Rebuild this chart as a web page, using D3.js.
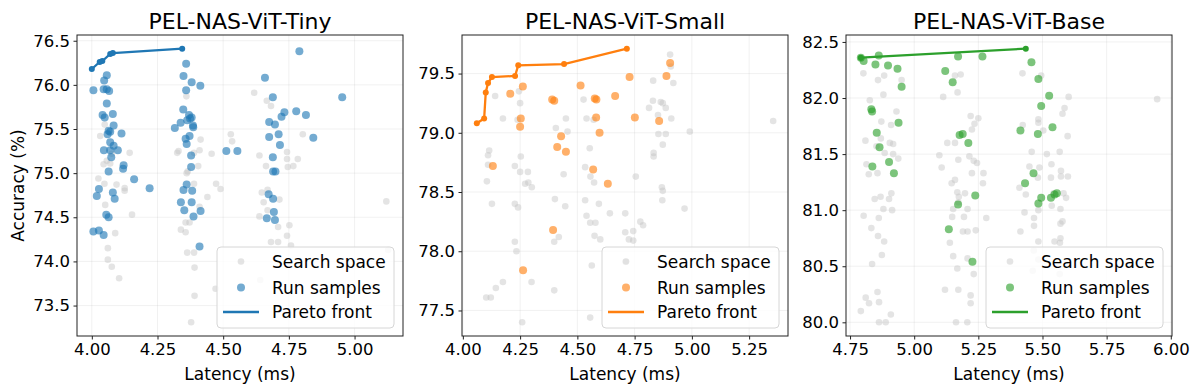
<!DOCTYPE html>
<html>
<head>
<meta charset="utf-8">
<script src="https://cdn.jsdelivr.net/npm/d3@7"></script>
<style>
  body { margin: 0; background: #fff; }
  text { font-family: "DejaVu Sans", sans-serif; fill: #000; }
</style>
</head>
<body>
<div id="chart"></div>
<script>
// chart data: [latency ms, accuracy %]
var titles = ["PEL-NAS-ViT-Tiny", "PEL-NAS-ViT-Small", "PEL-NAS-ViT-Base"];
var colors = ["#1f77b4", "#ff7f0e", "#2ca02c"];
var legendLabels = ["Search space", "Run samples", "Pareto front"];

var xTicks = [[4.00, 4.25, 4.50, 4.75, 5.00],
              [4.00, 4.25, 4.50, 4.75, 5.00, 5.25],
              [4.75, 5.00, 5.25, 5.50, 5.75, 6.00]];
var yTicks = [[73.5, 74.0, 74.5, 75.0, 75.5, 76.0, 76.5],
              [77.5, 78.0, 78.5, 79.0, 79.5],
              [80.0, 80.5, 81.0, 81.5, 82.0, 82.5]];

var tinySearch = [[4.618,75.91],[4.666,75.82],[4.682,75.76],[4.803,75.44],[4.529,75.44],[4.534,75.36],[4.414,75.38],[4.41,75.26],
  [4.389,75.23],[4.325,75.23],[4.456,75.22],[4.638,75.20],[4.743,75.24],[4.743,75.16],[4.784,75.16],[4.746,75.07],[4.767,75.08],
  [4.663,75.08],[4.405,75.08],[4.361,75.00],[4.389,74.88],[4.473,74.88],[4.490,74.82],[4.440,74.73],[4.410,74.62],[4.669,74.81],
  [4.647,74.78],[4.654,74.67],[4.669,74.58],[4.638,74.51],[4.714,74.70],[5.121,74.68],[5.128,74.13],[4.752,74.41],[4.709,74.39],
  [4.743,74.29],[4.682,74.22],[4.709,74.22],[4.758,74.18],[4.357,74.44],[4.372,74.44],[4.339,74.36],[4.357,74.33],[4.363,74.10],
  [4.389,74.10],[4.391,73.93],[4.391,73.61],[4.378,73.31],[4.471,73.69],[4.641,73.79],[4.076,75.22],[4.032,75.42],[4.049,75.55],
  [4.057,75.14],[4.07,75.11],[4.025,74.94],[4.048,74.88],[4.094,74.87],[4.125,74.83],[4.125,74.80],[4.051,74.64],[4.144,75.23],
  [4.153,74.53],[4.089,74.32],[4.061,74.15],[4.061,74.02],[4.076,73.94],[4.104,73.81],[4.36,75.87],[4.33,75.25],[4.365,75.02],[4.045,75.10]];
var tinyRuns = [[4.79,76.38],[4.359,76.24],[4.349,76.10],[4.38,76.03],[4.413,75.99],[4.359,75.94],
  [4.057,76.11],[4.047,76.05],[4.006,75.94],[4.045,75.95],[4.057,75.95],[4.066,75.93],[4.057,75.79],[4.041,75.66],[4.049,75.63],
  [4.08,75.67],[4.083,75.54],[4.064,75.48],[4.06,75.44],[4.07,75.47],[4.113,75.45],[4.07,75.35],[4.083,75.31],[4.099,75.26],
  [4.046,75.26],[4.07,75.26],[4.074,75.18],[4.121,75.09],[4.119,75.05],[4.064,75.02],[4.161,74.93],[4.22,74.83],[4.027,74.82],
  [4.019,74.74],[4.08,74.78],[4.087,74.71],[4.055,74.53],[4.064,74.50],[4.006,74.34],[4.027,74.35],[4.045,74.30],
  [4.348,75.72],[4.338,75.57],[4.316,75.51],[4.37,75.66],[4.374,75.62],[4.38,75.63],[4.363,75.60],[4.385,75.54],[4.386,75.52],
  [4.372,75.42],[4.357,75.39],[4.361,75.33],[4.378,75.20],[4.378,75.07],[4.361,74.87],[4.349,74.81],[4.382,74.80],[4.339,74.67],
  [4.38,74.67],[4.352,74.58],[4.387,74.51],[4.414,74.57],[4.41,74.17],[4.512,75.25],[4.554,75.25],
  [4.659,76.08],[4.689,75.86],[4.953,75.86],[4.778,75.70],[4.733,75.69],[4.722,75.64],[4.815,75.66],[4.675,75.58],[4.697,75.55],
  [4.843,75.40],[4.711,75.44],[4.675,75.41],[4.716,75.32],[4.689,75.18],[4.69,75.02],[4.699,75.02],[4.673,74.76],[4.69,74.71],
  [4.693,74.56],[4.666,74.49],[4.697,74.47]];
var tinyPareto = [[4.00,76.18],[4.03,76.26],[4.04,76.27],[4.07,76.35],[4.08,76.36],[4.344,76.41]];

var smallSearch = [[4.905,79.66],[4.908,79.56],[4.919,79.42],[4.831,79.44],[4.83,79.27],[4.864,79.26],[4.873,79.25],[4.886,79.21],
  [4.813,79.21],[4.852,79.15],[4.91,79.12],[4.854,78.99],[4.886,78.99],[4.991,79.01],[5.355,79.10],[4.873,78.90],[4.833,78.83],
  [4.833,78.80],[4.755,78.63],[4.869,78.54],[4.873,78.51],[4.871,78.43],[4.968,78.36],[4.775,78.25],[4.787,78.22],[4.744,78.17],
  [4.709,78.32],[4.744,78.09],[4.725,78.10],[4.709,78.16],[4.642,78.32],[4.71,77.91],[4.579,78.24],[4.556,78.24],[4.54,78.30],
  [4.575,78.13],[4.60,78.10],[4.534,78.43],[4.594,78.40],[4.557,78.63],[4.573,78.58],[4.534,78.71],[4.554,78.87],[4.527,79.28],
  [4.54,79.12],[4.571,79.11],[4.45,79.12],[4.457,79.01],[4.406,79.04],[4.44,78.65],[4.447,78.38],[4.402,78.44],[4.419,78.12],
  [4.399,78.08],[4.399,77.67],[4.563,77.88],[4.556,77.44],[4.259,77.40],[4.30,77.74],[4.175,77.74],[4.144,77.69],[4.122,77.61],
  [4.102,77.61],[4.227,78.08],[4.234,78.00],[4.227,78.40],[4.241,78.37],[4.253,78.80],[4.227,78.72],[4.25,78.67],[4.284,78.67],
  [4.272,78.57],[4.286,78.58],[4.301,78.54],[4.105,78.59],[4.127,78.40],[4.115,78.85],[4.11,78.81],[4.11,78.73],[4.141,79.31],
  [4.175,79.12],[4.245,79.35],[4.25,79.25],[4.239,79.11]];
var smallRuns = [[4.207,79.33],[4.262,79.39],[4.253,79.12],[4.25,79.05],[4.131,78.72],[4.39,79.28],[4.399,79.27],[4.514,79.40],
  [4.576,79.29],[4.583,79.28],[4.665,79.31],[4.582,79.13],[4.597,79.00],[4.429,78.97],[4.412,78.88],[4.45,78.84],[4.569,78.69],
  [4.633,78.57],[4.394,78.18],[4.263,77.84],[4.728,79.47],[4.751,79.13],[4.857,79.10],[4.889,79.48],[4.905,79.59]];
var smallPareto = [[4.061,79.08],[4.093,79.12],[4.10,79.34],[4.11,79.42],[4.127,79.47],[4.228,79.48],[4.242,79.57],[4.442,79.58],[4.716,79.71]];

var baseSearch = [[4.802,82.22],[4.859,82.16],[4.883,82.20],[4.951,82.16],[4.88,82.03],[4.827,81.98],[4.931,81.88],[4.872,81.79],
  [4.91,81.76],[4.81,81.62],[4.87,81.64],[4.905,81.60],[4.918,81.59],[4.853,81.57],[4.885,81.51],[4.918,81.50],[4.938,81.46],
  [4.814,81.41],[4.823,81.32],[4.857,81.33],[4.869,81.12],[4.846,81.10],[4.911,81.15],[4.902,81.10],[4.88,81.01],[4.914,81.00],
  [4.803,80.95],[4.862,80.93],[4.833,80.84],[4.859,80.77],[4.883,80.72],[4.874,80.60],[4.836,80.52],[4.857,80.27],[4.811,80.22],
  [4.824,80.17],[4.863,80.18],[4.792,80.10],[4.909,80.07],[4.863,80.00],[4.889,80.00],
  [5.113,82.01],[5.169,82.05],[5.159,82.20],[5.181,82.21],[5.22,81.84],[5.25,81.82],[5.235,81.77],[5.225,81.72],[5.129,81.60],
  [5.159,81.60],[5.098,81.49],[5.107,81.38],[5.172,81.45],[5.215,81.48],[5.232,81.44],[5.245,81.42],[5.225,81.33],[5.27,81.33],
  [5.268,81.24],[5.146,81.24],[5.159,81.27],[5.168,81.16],[5.174,81.12],[5.198,81.15],[5.172,81.07],[5.152,81.01],[5.208,81.01],
  [5.194,80.94],[5.148,80.94],[5.281,80.93],[5.19,80.81],[5.208,80.81],[5.24,80.82],[5.139,80.71],[5.152,80.59],[5.208,80.57],
  [5.168,80.48],[5.232,80.43],[5.12,80.29],[5.172,80.29],[5.22,80.24],[5.22,80.17],[5.163,80.00],[5.207,80.00],
  [5.422,82.22],[5.495,82.20],[5.602,82.01],[5.947,81.99],[5.586,81.91],[5.578,81.86],[5.484,81.81],[5.484,81.78],[5.503,81.71],
  [5.598,81.66],[5.423,81.76],[5.458,81.52],[5.567,81.52],[5.517,81.50],[5.535,81.41],[5.449,81.39],[5.488,81.38],[5.572,81.35],
  [5.572,81.30],[5.533,81.29],[5.599,81.30],[5.482,81.29],[5.41,81.20],[5.543,81.15],[5.582,81.15],[5.592,81.11],[5.435,81.14],
  [5.484,81.00],[5.43,80.98],[5.536,81.04],[5.57,81.01],[5.467,80.93],[5.578,80.90],[5.57,80.88],[5.467,80.86],[5.414,80.81],
  [5.484,80.72],[5.57,80.75],[5.547,80.72],[5.568,80.71],[5.466,80.64],[5.484,80.56],[5.462,80.46],[5.567,80.43]];
var baseRuns = [[4.792,82.36],[4.803,82.33],[4.862,82.38],[4.849,82.30],[4.898,82.29],[4.935,82.26],[4.951,82.10],[4.833,81.90],
  [4.836,81.88],[4.939,81.78],[4.854,81.69],[4.865,81.56],[4.902,81.43],[4.837,81.39],[4.921,81.33],
  [5.171,82.37],[5.266,82.37],[5.121,82.24],[5.15,82.14],[5.177,81.67],[5.189,81.68],[5.211,81.60],[5.238,81.13],[5.171,81.05],
  [5.135,80.83],[5.227,80.54],
  [5.457,82.32],[5.484,82.17],[5.526,82.02],[5.495,81.93],[5.414,81.71],[5.482,81.68],[5.539,81.74],[5.465,81.33],[5.432,81.24],
  [5.495,81.11],[5.484,81.06],[5.533,81.11],[5.547,81.14],[5.556,81.15]];
var basePareto = [[4.792,82.36],[5.435,82.44]];

var searchSets = [tinySearch, smallSearch, baseSearch];
var runSets = [tinyRuns, smallRuns, baseRuns];
var paretoSets = [tinyPareto, smallPareto, basePareto];

function init() {
    var w = 1198, h = 392;
    var lefts = [77, 462, 846];
    var pw = 326, top = 35, ph = 301;

    var svg = d3.select("#chart").append("svg")
        .attr("width", w)
        .attr("height", h);

    titles.forEach(function(title, i) {
        var all = searchSets[i].concat(runSets[i], paretoSets[i]);
        var xe = d3.extent(all, function(d) { return d[0]; });
        var ye = d3.extent(all, function(d) { return d[1]; });
        var xm = (xe[1] - xe[0]) * 0.05, ym = (ye[1] - ye[0]) * 0.05; // matplotlib style margins

        var x = d3.scaleLinear().domain([xe[0] - xm, xe[1] + xm]).range([0, pw]);
        var y = d3.scaleLinear().domain([ye[0] - ym, ye[1] + ym]).range([ph, 0]);

        var g = svg.append("g").attr("transform", "translate(" + lefts[i] + "," + top + ")");

        // grid
        g.append("g").selectAll("line.gx").data(xTicks[i]).enter().append("line")
            .attr("x1", function(d) { return x(d); }).attr("x2", function(d) { return x(d); })
            .attr("y1", 0).attr("y2", ph)
            .attr("stroke", "#b0b0b0").attr("stroke-opacity", 0.22).attr("stroke-width", 0.8);
        g.append("g").selectAll("line.gy").data(yTicks[i]).enter().append("line")
            .attr("y1", function(d) { return y(d); }).attr("y2", function(d) { return y(d); })
            .attr("x1", 0).attr("x2", pw)
            .attr("stroke", "#b0b0b0").attr("stroke-opacity", 0.22).attr("stroke-width", 0.8);

        // search space
        g.append("g").selectAll("circle").data(searchSets[i]).enter().append("circle")
            .attr("cx", function(d) { return x(d[0]); })
            .attr("cy", function(d) { return y(d[1]); })
            .attr("r", 3.3)
            .attr("fill", "#c4c4c4")
            .attr("fill-opacity", 0.45);

        // run samples
        g.append("g").selectAll("circle").data(runSets[i]).enter().append("circle")
            .attr("cx", function(d) { return x(d[0]); })
            .attr("cy", function(d) { return y(d[1]); })
            .attr("r", 4)
            .attr("fill", colors[i])
            .attr("fill-opacity", 0.62);

        // pareto front
        var line = d3.line().x(function(d) { return x(d[0]); }).y(function(d) { return y(d[1]); });
        g.append("path").datum(paretoSets[i])
            .attr("d", line)
            .attr("fill", "none")
            .attr("stroke", colors[i])
            .attr("stroke-width", 2.3);
        g.append("g").selectAll("circle").data(paretoSets[i]).enter().append("circle")
            .attr("cx", function(d) { return x(d[0]); })
            .attr("cy", function(d) { return y(d[1]); })
            .attr("r", 3)
            .attr("fill", colors[i]);

        // axes
        var xAxis = d3.axisBottom(x).tickValues(xTicks[i]).tickFormat(d3.format(".2f")).tickSize(3.5).tickPadding(3.5);
        var yAxis = d3.axisLeft(y).tickValues(yTicks[i]).tickFormat(d3.format(".1f")).tickSize(3.5).tickPadding(3.5);
        var gx = g.append("g").attr("transform", "translate(0," + ph + ")").call(xAxis);
        var gy = g.append("g").call(yAxis);
        [gx, gy].forEach(function(a) {
            a.select(".domain").remove();
            a.selectAll("text").style("font-size", "16.5px").style("font-family", "DejaVu Sans");
            a.selectAll("line").attr("stroke", "#222");
        });

        g.append("rect")
            .attr("width", pw).attr("height", ph)
            .attr("fill", "none").attr("stroke", "#222").attr("stroke-width", 1);

        // title and labels
        g.append("text").attr("x", pw / 2).attr("y", -6)
            .attr("text-anchor", "middle").style("font-size", "22px").text(title);
        g.append("text").attr("x", pw / 2).attr("y", 345)
            .attr("text-anchor", "middle").style("font-size", "17px").text("Latency (ms)");
        if (i === 0) {
            svg.append("text")
                .attr("transform", "translate(24," + (top + ph / 2) + ") rotate(-90)")
                .attr("text-anchor", "middle").style("font-size", "17px").text("Accuracy (%)");
        }

        // legend
        var lg = g.append("g").attr("transform", "translate(" + (pw - 186) + "," + (ph - 89) + ")");
        lg.append("rect").attr("width", 177).attr("height", 81).attr("rx", 4)
            .attr("fill", "#fff").attr("fill-opacity", 0.8)
            .attr("stroke", "#d6d6d6").attr("stroke-width", 1);
        lg.append("circle").attr("cx", 24).attr("cy", 14.5).attr("r", 3.3)
            .attr("fill", "#c4c4c4").attr("fill-opacity", 0.45);
        lg.append("circle").attr("cx", 24).attr("cy", 40.5).attr("r", 4)
            .attr("fill", colors[i]).attr("fill-opacity", 0.62);
        lg.append("line").attr("x1", 6).attr("x2", 42).attr("y1", 65).attr("y2", 65)
            .attr("stroke", colors[i]).attr("stroke-width", 2.3);
        lg.selectAll("text.lab").data(legendLabels).enter().append("text")
            .attr("x", 55)
            .attr("y", function(d, k) { return [14.5, 40.5, 65][k] + 6; })
            .style("font-size", "17px")
            .text(function(d) { return d; });
    });
}
window.onload = init;
</script>
</body>
</html>
